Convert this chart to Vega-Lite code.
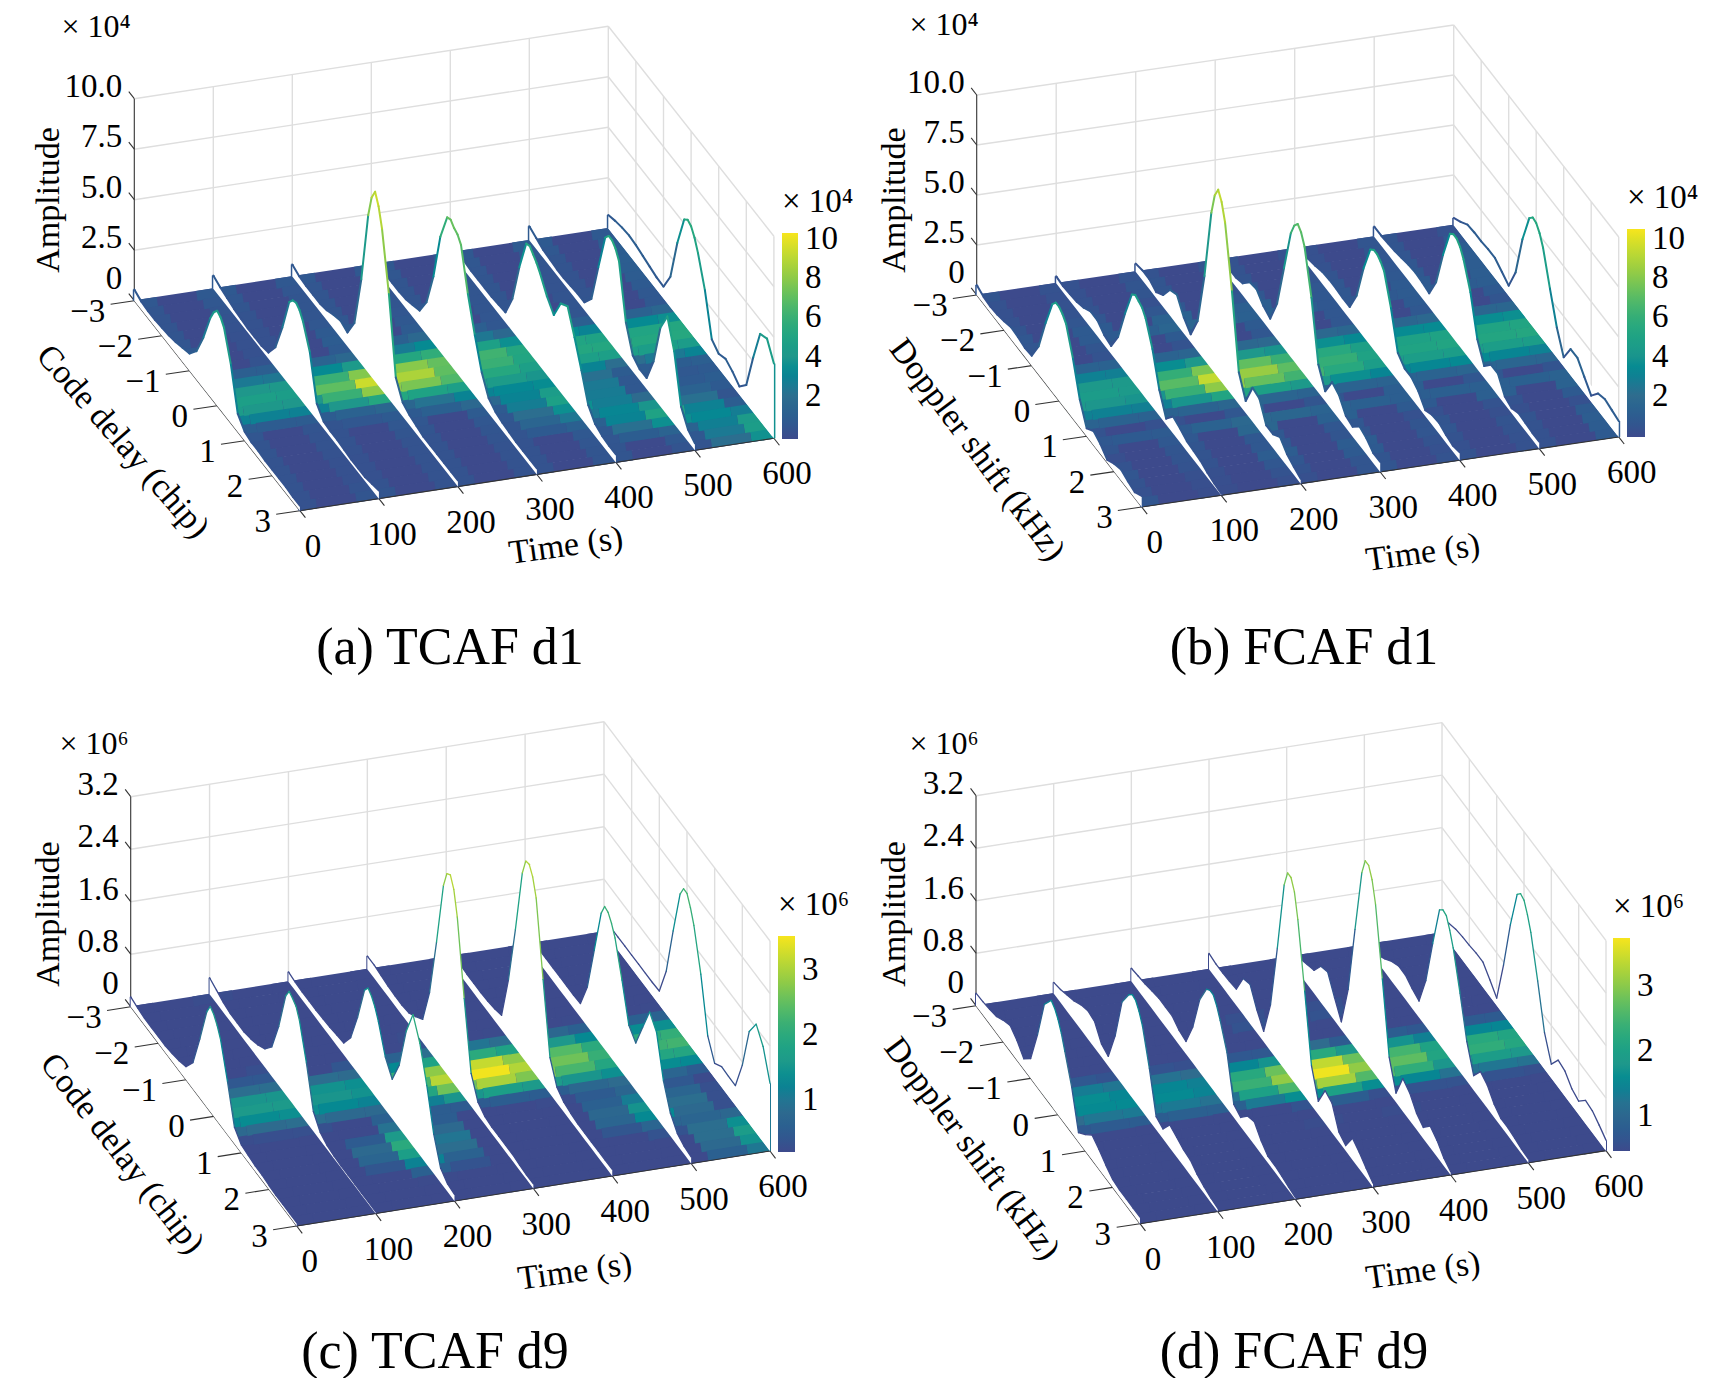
{"$schema":"https://vega.github.io/schema/vega-lite/v6.json","padding":0,"background":"white","bounds":"flush","columns":2,"spacing":{"row":86,"column":0},"resolve":{"scale":{"color":"independent"},"legend":{"color":"independent"}},"config":{"view":{"stroke":null}},
"datasets":{
"guides":[
{"k":"grid","t":100,"d":-3,"f":0,"t2":100,"d2":-3,"f2":1},{"k":"grid","t":200,"d":-3,"f":0,"t2":200,"d2":-3,"f2":1},{"k":"grid","t":300,"d":-3,"f":0,"t2":300,"d2":-3,"f2":1},{"k":"grid","t":400,"d":-3,"f":0,"t2":400,"d2":-3,"f2":1},{"k":"grid","t":500,"d":-3,"f":0,"t2":500,"d2":-3,"f2":1},{"k":"grid","t":600,"d":-3,"f":0,"t2":600,"d2":-3,"f2":1},
{"k":"grid","t":0,"d":-3,"f":0.25,"t2":600,"d2":-3,"f2":0.25},{"k":"grid","t":0,"d":-3,"f":0.5,"t2":600,"d2":-3,"f2":0.5},{"k":"grid","t":0,"d":-3,"f":0.75,"t2":600,"d2":-3,"f2":0.75},{"k":"grid","t":0,"d":-3,"f":1,"t2":600,"d2":-3,"f2":1},
{"k":"grid","t":600,"d":-2,"f":0,"t2":600,"d2":-2,"f2":1},{"k":"grid","t":600,"d":-1,"f":0,"t2":600,"d2":-1,"f2":1},{"k":"grid","t":600,"d":0,"f":0,"t2":600,"d2":0,"f2":1},{"k":"grid","t":600,"d":1,"f":0,"t2":600,"d2":1,"f2":1},{"k":"grid","t":600,"d":2,"f":0,"t2":600,"d2":2,"f2":1},{"k":"grid","t":600,"d":3,"f":0,"t2":600,"d2":3,"f2":1},
{"k":"grid","t":600,"d":-3,"f":0.25,"t2":600,"d2":3,"f2":0.25},{"k":"grid","t":600,"d":-3,"f":0.5,"t2":600,"d2":3,"f2":0.5},{"k":"grid","t":600,"d":-3,"f":0.75,"t2":600,"d2":3,"f2":0.75},{"k":"grid","t":600,"d":-3,"f":1,"t2":600,"d2":3,"f2":1},
{"k":"mask","t":607,"d":-3.1,"f":0,"t2":607,"d2":3.1,"f2":0},{"k":"mask","t":-7,"d":-3.1,"f":0,"t2":-7,"d2":3.1,"f2":0},
{"k":"axis","t":0,"d":-3,"f":0,"t2":0,"d2":-3,"f2":1},{"k":"axis","t":0,"d":-3,"f":0,"t2":0,"d2":3,"f2":0},{"k":"axis","t":0,"d":3,"f":0,"t2":600,"d2":3,"f2":0},
{"k":"axis","t":0,"d":-3,"f":0,"t2":0,"d2":-3.2,"f2":0},{"k":"axis","t":0,"d":-3,"f":0.25,"t2":0,"d2":-3.2,"f2":0.25},{"k":"axis","t":0,"d":-3,"f":0.5,"t2":0,"d2":-3.2,"f2":0.5},{"k":"axis","t":0,"d":-3,"f":0.75,"t2":0,"d2":-3.2,"f2":0.75},{"k":"axis","t":0,"d":-3,"f":1,"t2":0,"d2":-3.2,"f2":1},
{"k":"axis","t":0,"d":-2,"f":0,"t2":-30,"d2":-2,"f2":0},{"k":"axis","t":0,"d":-1,"f":0,"t2":-30,"d2":-1,"f2":0},{"k":"axis","t":0,"d":0,"f":0,"t2":-30,"d2":0,"f2":0},{"k":"axis","t":0,"d":1,"f":0,"t2":-30,"d2":1,"f2":0},{"k":"axis","t":0,"d":2,"f":0,"t2":-30,"d2":2,"f2":0},{"k":"axis","t":0,"d":3,"f":0,"t2":-30,"d2":3,"f2":0},{"k":"axis","t":0,"d":-3,"f":0,"t2":-30,"d2":-3,"f2":0},
{"k":"axis","t":0,"d":3,"f":0,"t2":0,"d2":3.2,"f2":0},{"k":"axis","t":100,"d":3,"f":0,"t2":100,"d2":3.2,"f2":0},{"k":"axis","t":200,"d":3,"f":0,"t2":200,"d2":3.2,"f2":0},{"k":"axis","t":300,"d":3,"f":0,"t2":300,"d2":3.2,"f2":0},{"k":"axis","t":400,"d":3,"f":0,"t2":400,"d2":3.2,"f2":0},{"k":"axis","t":500,"d":3,"f":0,"t2":500,"d2":3.2,"f2":0},{"k":"axis","t":600,"d":3,"f":0,"t2":600,"d2":3.2,"f2":0}
],
"labels":[
{"k":"t","label":"0","t":0,"d":3,"f":0},{"k":"t","label":"100","t":100,"d":3,"f":0},{"k":"t","label":"200","t":200,"d":3,"f":0},{"k":"t","label":"300","t":300,"d":3,"f":0},{"k":"t","label":"400","t":400,"d":3,"f":0},{"k":"t","label":"500","t":500,"d":3,"f":0},{"k":"t","label":"600","t":600,"d":3,"f":0},
{"k":"d","label":"−3","t":0,"d":-3,"f":0},{"k":"d","label":"−2","t":0,"d":-2,"f":0},{"k":"d","label":"−1","t":0,"d":-1,"f":0},{"k":"d","label":"0","t":0,"d":0,"f":0},{"k":"d","label":"1","t":0,"d":1,"f":0},{"k":"d","label":"2","t":0,"d":2,"f":0},{"k":"d","label":"3","t":0,"d":3,"f":0},
{"k":"e4","label":"0","t":0,"d":-3,"f":0.05},{"k":"e4","label":"2.5","t":0,"d":-3,"f":0.25},{"k":"e4","label":"5.0","t":0,"d":-3,"f":0.5},{"k":"e4","label":"7.5","t":0,"d":-3,"f":0.75},{"k":"e4","label":"10.0","t":0,"d":-3,"f":1},
{"k":"e6","label":"0","t":0,"d":-3,"f":0.05},{"k":"e6","label":"0.8","t":0,"d":-3,"f":0.25},{"k":"e6","label":"1.6","t":0,"d":-3,"f":0.5},{"k":"e6","label":"2.4","t":0,"d":-3,"f":0.75},{"k":"e6","label":"3.2","t":0,"d":-3,"f":1},
{"p":"a","k":"delay","label":"Code delay (chip)","t":-139,"d":0.55,"f":0},{"p":"a","k":"time","label":"Time (s)","t":269,"d":4.94,"f":0},{"p":"a","k":"amp","label":"Amplitude","t":-107.6,"d":-3,"f":0.563},{"p":"a","k":"sci","label":"× 10⁴","t":-48.3,"d":-3,"f":1.384},
{"p":"b","k":"delay","label":"Doppler shift (kHz)","t":-136,"d":0.94,"f":0},{"p":"b","k":"time","label":"Time (s)","t":277,"d":5.22,"f":0},{"p":"b","k":"amp","label":"Amplitude","t":-102.8,"d":-3,"f":0.535},{"p":"b","k":"sci","label":"× 10⁴","t":-41,"d":-3,"f":1.374},
{"p":"c","k":"delay","label":"Code delay (chip)","t":-136,"d":0.56,"f":0},{"p":"c","k":"time","label":"Time (s)","t":275.6,"d":5.2,"f":0},{"p":"c","k":"amp","label":"Amplitude","t":-103.6,"d":-3,"f":0.503},{"p":"c","k":"sci","label":"× 10⁶","t":-46.5,"d":-3,"f":1.279},
{"p":"d","k":"delay","label":"Doppler shift (kHz)","t":-129,"d":0.51,"f":0},{"p":"d","k":"time","label":"Time (s)","t":285,"d":5.26,"f":0},{"p":"d","k":"amp","label":"Amplitude","t":-104,"d":-3,"f":0.497},{"p":"d","k":"sci","label":"× 10⁶","t":-41,"d":-3,"f":1.27}
],
"a":[
{"t":0,"d":-3,"z":0.55},{"t":0,"d":-2.75,"z":0.4},{"t":0,"d":-2.5,"z":0.35},{"t":0,"d":-2.25,"z":0.35},{"t":0,"d":-2,"z":0.4},{"t":0,"d":-1.75,"z":0.45},{"t":0,"d":-1.5,"z":0.55},{"t":0,"d":-1.25,"z":0.7},{"t":0,"d":-1,"z":0.85},{"t":0,"d":-0.75,"z":1.4},{"t":0,"d":-0.5,"z":2.5},{"t":0,"d":-0.25,"z":3.9},{"t":0,"d":0,"z":4.7},{"t":0,"d":0.25,"z":4.3},{"t":0,"d":0.5,"z":2.9},{"t":0,"d":0.75,"z":0.9},{"t":0,"d":1,"z":0.45},{"t":0,"d":1.25,"z":0.35},{"t":0,"d":1.5,"z":0.35},{"t":0,"d":1.75,"z":0.3},{"t":0,"d":2,"z":0.3},{"t":0,"d":2.25,"z":0.3},{"t":0,"d":2.5,"z":0.3},{"t":0,"d":2.75,"z":0.25},{"t":0,"d":3,"z":0.25},
{"t":100,"d":-3,"z":0.65},{"t":100,"d":-2.75,"z":0.5},{"t":100,"d":-2.5,"z":0.4},{"t":100,"d":-2.25,"z":0.3},{"t":100,"d":-2,"z":0.25},{"t":100,"d":-1.75,"z":0.2},{"t":100,"d":-1.5,"z":0.2},{"t":100,"d":-1.25,"z":0.2},{"t":100,"d":-1,"z":0.3},{"t":100,"d":-0.75,"z":1},{"t":100,"d":-0.5,"z":2.4},{"t":100,"d":-0.25,"z":4.1},{"t":100,"d":0,"z":4.5},{"t":100,"d":0.25,"z":4},{"t":100,"d":0.5,"z":2.9},{"t":100,"d":0.75,"z":0.8},{"t":100,"d":1,"z":0.35},{"t":100,"d":1.25,"z":0.3},{"t":100,"d":1.5,"z":0.3},{"t":100,"d":1.75,"z":0.25},{"t":100,"d":2,"z":0.2},{"t":100,"d":2.25,"z":0.2},{"t":100,"d":2.5,"z":0.2},{"t":100,"d":2.75,"z":0.3},{"t":100,"d":3,"z":0.4},
{"t":200,"d":-3,"z":0.6},{"t":200,"d":-2.75,"z":0.45},{"t":200,"d":-2.5,"z":0.4},{"t":200,"d":-2.25,"z":0.4},{"t":200,"d":-2,"z":0.4},{"t":200,"d":-1.75,"z":0.5},{"t":200,"d":-1.5,"z":0.7},{"t":200,"d":-1.25,"z":0.85},{"t":200,"d":-1,"z":0.7},{"t":200,"d":-0.75,"z":1.6},{"t":200,"d":-0.5,"z":4.2},{"t":200,"d":-0.25,"z":7.8},{"t":200,"d":0,"z":9.4},{"t":200,"d":0.25,"z":8},{"t":200,"d":0.5,"z":5.2},{"t":200,"d":0.75,"z":1.5},{"t":200,"d":1,"z":0.7},{"t":200,"d":1.25,"z":0.5},{"t":200,"d":1.5,"z":0.4},{"t":200,"d":1.75,"z":0.3},{"t":200,"d":2,"z":0.3},{"t":200,"d":2.25,"z":0.3},{"t":200,"d":2.5,"z":0.3},{"t":200,"d":2.75,"z":0.3},{"t":200,"d":3,"z":0.3},
{"t":300,"d":-3,"z":0.6},{"t":300,"d":-2.75,"z":0.5},{"t":300,"d":-2.5,"z":0.4},{"t":300,"d":-2.25,"z":0.4},{"t":300,"d":-2,"z":0.4},{"t":300,"d":-1.75,"z":0.45},{"t":300,"d":-1.5,"z":0.6},{"t":300,"d":-1.25,"z":0.75},{"t":300,"d":-1,"z":1.6},{"t":300,"d":-0.75,"z":3.3},{"t":300,"d":-0.5,"z":5.7},{"t":300,"d":-0.25,"z":7.1},{"t":300,"d":0,"z":7},{"t":300,"d":0.25,"z":6.6},{"t":300,"d":0.5,"z":4.6},{"t":300,"d":0.75,"z":3},{"t":300,"d":1,"z":1.6},{"t":300,"d":1.25,"z":0.75},{"t":300,"d":1.5,"z":0.5},{"t":300,"d":1.75,"z":0.4},{"t":300,"d":2,"z":0.35},{"t":300,"d":2.25,"z":0.3},{"t":300,"d":2.5,"z":0.3},{"t":300,"d":2.75,"z":0.3},{"t":300,"d":3,"z":0.3},
{"t":400,"d":-3,"z":0.55},{"t":400,"d":-2.75,"z":0.5},{"t":400,"d":-2.5,"z":0.45},{"t":400,"d":-2.25,"z":0.4},{"t":400,"d":-2,"z":0.4},{"t":400,"d":-1.75,"z":0.4},{"t":400,"d":-1.5,"z":0.4},{"t":400,"d":-1.25,"z":0.45},{"t":400,"d":-1,"z":0.5},{"t":400,"d":-0.75,"z":1.6},{"t":400,"d":-0.5,"z":3.6},{"t":400,"d":-0.25,"z":5.2},{"t":400,"d":0,"z":5.1},{"t":400,"d":0.25,"z":4.6},{"t":400,"d":0.5,"z":3.9},{"t":400,"d":0.75,"z":3.4},{"t":400,"d":1,"z":4.4},{"t":400,"d":1.25,"z":4.7},{"t":400,"d":1.5,"z":3.6},{"t":400,"d":1.75,"z":2.4},{"t":400,"d":2,"z":1.1},{"t":400,"d":2.25,"z":0.6},{"t":400,"d":2.5,"z":0.45},{"t":400,"d":2.75,"z":0.4},{"t":400,"d":3,"z":0.4},
{"t":500,"d":-3,"z":0.7},{"t":500,"d":-2.75,"z":0.55},{"t":500,"d":-2.5,"z":0.4},{"t":500,"d":-2.25,"z":0.35},{"t":500,"d":-2,"z":0.3},{"t":500,"d":-1.75,"z":0.3},{"t":500,"d":-1.5,"z":0.35},{"t":500,"d":-1.25,"z":0.4},{"t":500,"d":-1,"z":0.4},{"t":500,"d":-0.75,"z":1},{"t":500,"d":-0.5,"z":3},{"t":500,"d":-0.25,"z":4.9},{"t":500,"d":0,"z":5.2},{"t":500,"d":0.25,"z":4.6},{"t":500,"d":0.5,"z":2},{"t":500,"d":0.75,"z":0.8},{"t":500,"d":1,"z":0.55},{"t":500,"d":1.25,"z":0.55},{"t":500,"d":1.5,"z":1.8},{"t":500,"d":1.75,"z":3.9},{"t":500,"d":2,"z":4.9},{"t":500,"d":2.25,"z":3.6},{"t":500,"d":2.5,"z":1.3},{"t":500,"d":2.75,"z":0.6},{"t":500,"d":3,"z":0.35},
{"t":600,"d":-3,"z":0.66},{"t":600,"d":-2.75,"z":0.8},{"t":600,"d":-2.5,"z":0.9},{"t":600,"d":-2.25,"z":0.95},{"t":600,"d":-2,"z":0.9},{"t":600,"d":-1.75,"z":0.8},{"t":600,"d":-1.5,"z":0.7},{"t":600,"d":-1.25,"z":0.6},{"t":600,"d":-1,"z":0.58},{"t":600,"d":-0.75,"z":1.5},{"t":600,"d":-0.5,"z":3.6},{"t":600,"d":-0.25,"z":5.2},{"t":600,"d":0,"z":5.3},{"t":600,"d":0.25,"z":4.4},{"t":600,"d":0.5,"z":3},{"t":600,"d":0.75,"z":1},{"t":600,"d":1,"z":0.72},{"t":600,"d":1.25,"z":0.9},{"t":600,"d":1.5,"z":0.7},{"t":600,"d":1.75,"z":0.4},{"t":600,"d":2,"z":0.9},{"t":600,"d":2.25,"z":2.7},{"t":600,"d":2.5,"z":4.3},{"t":600,"d":2.75,"z":4.5},{"t":600,"d":3,"z":3.7},
{"t":0,"d":-0.125,"z":4.4},{"t":0,"d":0.125,"z":4.6},{"t":100,"d":-0.125,"z":4.4},{"t":100,"d":0.125,"z":4.35},{"t":200,"d":-0.125,"z":8.9},{"t":200,"d":0.125,"z":8.9},{"t":300,"d":-0.125,"z":7.2},{"t":300,"d":0.125,"z":6.9},{"t":400,"d":-0.125,"z":5.3},{"t":400,"d":0.125,"z":4.9},{"t":500,"d":-0.125,"z":5.2},{"t":500,"d":0.125,"z":5},{"t":600,"d":-0.125,"z":5.4},{"t":600,"d":0.125,"z":4.95},
{"t":50,"d":-0.75,"z":1},{"t":50,"d":-0.5,"z":2.5},{"t":50,"d":-0.25,"z":4},{"t":50,"d":0,"z":4.6},{"t":50,"d":0.25,"z":4.1},{"t":50,"d":0.5,"z":2.9},{"t":50,"d":0.75,"z":0.85},
{"t":150,"d":-0.75,"z":1.3},{"t":150,"d":-0.5,"z":3.3},{"t":150,"d":-0.25,"z":6},{"t":150,"d":0,"z":7},{"t":150,"d":0.25,"z":6},{"t":150,"d":0.5,"z":4},{"t":150,"d":0.75,"z":1.2},{"t":150,"d":1,"z":0.5},
{"t":250,"d":-1,"z":1.1},{"t":250,"d":-0.75,"z":2.6},{"t":250,"d":-0.5,"z":5.2},{"t":250,"d":-0.25,"z":7.9},{"t":250,"d":0,"z":8.7},{"t":250,"d":0.25,"z":7.6},{"t":250,"d":0.5,"z":4.9},{"t":250,"d":0.75,"z":2.2},{"t":250,"d":1,"z":1.1},
{"t":350,"d":-1,"z":1},{"t":350,"d":-0.75,"z":2.4},{"t":350,"d":-0.5,"z":4.7},{"t":350,"d":-0.25,"z":6.2},{"t":350,"d":0,"z":6},{"t":350,"d":0.25,"z":5.3},{"t":350,"d":0.5,"z":4.3},{"t":350,"d":0.75,"z":3.2},{"t":350,"d":1,"z":3},{"t":350,"d":1.25,"z":2.7},{"t":350,"d":1.5,"z":2},{"t":350,"d":1.75,"z":1.4},{"t":350,"d":2,"z":0.7},
{"t":450,"d":-0.75,"z":1.3},{"t":450,"d":-0.5,"z":3.3},{"t":450,"d":-0.25,"z":5},{"t":450,"d":0,"z":5.2},{"t":450,"d":0.25,"z":4.6},{"t":450,"d":0.5,"z":3},{"t":450,"d":0.75,"z":2.1},{"t":450,"d":1,"z":2.5},{"t":450,"d":1.25,"z":2.6},{"t":450,"d":1.5,"z":2.7},{"t":450,"d":1.75,"z":3.1},{"t":450,"d":2,"z":3},{"t":450,"d":2.25,"z":2.1},{"t":450,"d":2.5,"z":0.9},
{"t":550,"d":-0.75,"z":1.2},{"t":550,"d":-0.5,"z":3.3},{"t":550,"d":-0.25,"z":5},{"t":550,"d":0,"z":5.2},{"t":550,"d":0.25,"z":4.5},{"t":550,"d":0.5,"z":2.5},{"t":550,"d":0.75,"z":0.9},{"t":550,"d":1,"z":0.6},{"t":550,"d":1.25,"z":0.7},{"t":550,"d":1.5,"z":1.2},{"t":550,"d":1.75,"z":2.1},{"t":550,"d":2,"z":2.9},{"t":550,"d":2.25,"z":3.2},{"t":550,"d":2.5,"z":2.8},{"t":550,"d":2.75,"z":2.5},{"t":550,"d":3,"z":2}
],
"b":[
{"t":0,"d":-3,"z":0.5},{"t":0,"d":-2.75,"z":0.35},{"t":0,"d":-2.5,"z":0.3},{"t":0,"d":-2.25,"z":0.35},{"t":0,"d":-2,"z":0.45},{"t":0,"d":-1.75,"z":0.6},{"t":0,"d":-1.5,"z":0.55},{"t":0,"d":-1.25,"z":0.45},{"t":0,"d":-1,"z":0.5},{"t":0,"d":-0.75,"z":1.4},{"t":0,"d":-0.5,"z":3},{"t":0,"d":-0.25,"z":4.4},{"t":0,"d":0,"z":4.7},{"t":0,"d":0.25,"z":4.3},{"t":0,"d":0.5,"z":3},{"t":0,"d":0.75,"z":1.4},{"t":0,"d":1,"z":0.4},{"t":0,"d":1.25,"z":0.7},{"t":0,"d":1.5,"z":0.5},{"t":0,"d":1.75,"z":0.15},{"t":0,"d":2,"z":0.4},{"t":0,"d":2.25,"z":0.55},{"t":0,"d":2.5,"z":0.4},{"t":0,"d":2.75,"z":0.3},{"t":0,"d":3,"z":0.55},
{"t":100,"d":-3,"z":0.35},{"t":100,"d":-2.75,"z":0.3},{"t":100,"d":-2.5,"z":0.35},{"t":100,"d":-2.25,"z":0.4},{"t":100,"d":-2,"z":0.55},{"t":100,"d":-1.75,"z":0.8},{"t":100,"d":-1.5,"z":0.8},{"t":100,"d":-1.25,"z":0.5},{"t":100,"d":-1,"z":0.4},{"t":100,"d":-0.75,"z":1.3},{"t":100,"d":-0.5,"z":2.9},{"t":100,"d":-0.25,"z":4.3},{"t":100,"d":0,"z":4.4},{"t":100,"d":0.25,"z":4},{"t":100,"d":0.5,"z":2.9},{"t":100,"d":0.75,"z":1.3},{"t":100,"d":1,"z":0.3},{"t":100,"d":1.25,"z":0.85},{"t":100,"d":1.5,"z":0.7},{"t":100,"d":1.75,"z":0.5},{"t":100,"d":2,"z":0.45},{"t":100,"d":2.25,"z":0.4},{"t":100,"d":2.5,"z":0.25},{"t":100,"d":2.75,"z":0.15},{"t":100,"d":3,"z":0.1},
{"t":200,"d":-3,"z":0.4},{"t":200,"d":-2.75,"z":0.5},{"t":200,"d":-2.5,"z":0.5},{"t":200,"d":-2.25,"z":0.3},{"t":200,"d":-2,"z":0.6},{"t":200,"d":-1.75,"z":1.3},{"t":200,"d":-1.5,"z":1.5},{"t":200,"d":-1.25,"z":0.8},{"t":200,"d":-1,"z":0.4},{"t":200,"d":-0.75,"z":1.5},{"t":200,"d":-0.5,"z":4.2},{"t":200,"d":-0.25,"z":7.8},{"t":200,"d":0,"z":9.4},{"t":200,"d":0.25,"z":8.2},{"t":200,"d":0.5,"z":5.2},{"t":200,"d":0.75,"z":1.6},{"t":200,"d":1,"z":0.6},{"t":200,"d":1.25,"z":1.7},{"t":200,"d":1.5,"z":1.6},{"t":200,"d":1.75,"z":0.7},{"t":200,"d":2,"z":0.7},{"t":200,"d":2.25,"z":1},{"t":200,"d":2.5,"z":0.6},{"t":200,"d":2.75,"z":0.4},{"t":200,"d":3,"z":0.25},
{"t":300,"d":-3,"z":0.4},{"t":300,"d":-2.75,"z":0.4},{"t":300,"d":-2.5,"z":0.45},{"t":300,"d":-2.25,"z":0.45},{"t":300,"d":-2,"z":0.6},{"t":300,"d":-1.75,"z":1.1},{"t":300,"d":-1.5,"z":1.2},{"t":300,"d":-1.25,"z":0.8},{"t":300,"d":-1,"z":0.6},{"t":300,"d":-0.75,"z":1.8},{"t":300,"d":-0.5,"z":4},{"t":300,"d":-0.25,"z":6.2},{"t":300,"d":0,"z":7.1},{"t":300,"d":0.25,"z":6.4},{"t":300,"d":0.5,"z":4.3},{"t":300,"d":0.75,"z":1.4},{"t":300,"d":1,"z":0.5},{"t":300,"d":1.25,"z":1.4},{"t":300,"d":1.5,"z":1.2},{"t":300,"d":1.75,"z":0.6},{"t":300,"d":2,"z":0.5},{"t":300,"d":2.25,"z":0.95},{"t":300,"d":2.5,"z":0.8},{"t":300,"d":2.75,"z":0.5},{"t":300,"d":3,"z":0.5},
{"t":400,"d":-3,"z":0.3},{"t":400,"d":-2.75,"z":0.3},{"t":400,"d":-2.5,"z":0.35},{"t":400,"d":-2.25,"z":0.45},{"t":400,"d":-2,"z":0.6},{"t":400,"d":-1.75,"z":0.65},{"t":400,"d":-1.5,"z":0.65},{"t":400,"d":-1.25,"z":0.6},{"t":400,"d":-1,"z":0.6},{"t":400,"d":-0.75,"z":1.6},{"t":400,"d":-0.5,"z":3.4},{"t":400,"d":-0.25,"z":4.8},{"t":400,"d":0,"z":5},{"t":400,"d":0.25,"z":4.6},{"t":400,"d":0.5,"z":3.2},{"t":400,"d":0.75,"z":1.4},{"t":400,"d":1,"z":1.05},{"t":400,"d":1.25,"z":1.05},{"t":400,"d":1.5,"z":0.8},{"t":400,"d":1.75,"z":0.3},{"t":400,"d":2,"z":0.5},{"t":400,"d":2.25,"z":0.55},{"t":400,"d":2.5,"z":0.4},{"t":400,"d":2.75,"z":0.3},{"t":400,"d":3,"z":0.4},
{"t":500,"d":-3,"z":0.5},{"t":500,"d":-2.75,"z":0.5},{"t":500,"d":-2.5,"z":0.55},{"t":500,"d":-2.25,"z":0.6},{"t":500,"d":-2,"z":0.7},{"t":500,"d":-1.75,"z":0.8},{"t":500,"d":-1.5,"z":0.85},{"t":500,"d":-1.25,"z":0.8},{"t":500,"d":-1,"z":0.7},{"t":500,"d":-0.75,"z":1.7},{"t":500,"d":-0.5,"z":3.5},{"t":500,"d":-0.25,"z":5},{"t":500,"d":0,"z":5.2},{"t":500,"d":0.25,"z":4.6},{"t":500,"d":0.5,"z":3.4},{"t":500,"d":0.75,"z":1.5},{"t":500,"d":1,"z":0.6},{"t":500,"d":1.25,"z":1.1},{"t":500,"d":1.5,"z":1.1},{"t":500,"d":1.75,"z":0.4},{"t":500,"d":2,"z":0.25},{"t":500,"d":2.25,"z":0.45},{"t":500,"d":2.5,"z":0.4},{"t":500,"d":2.75,"z":0.35},{"t":500,"d":3,"z":0.35},
{"t":600,"d":-3,"z":0.35},{"t":600,"d":-2.75,"z":0.6},{"t":600,"d":-2.5,"z":0.9},{"t":600,"d":-2.25,"z":0.95},{"t":600,"d":-2,"z":0.95},{"t":600,"d":-1.75,"z":1},{"t":600,"d":-1.5,"z":1},{"t":600,"d":-1.25,"z":0.75},{"t":600,"d":-1,"z":0.5},{"t":600,"d":-0.75,"z":1.6},{"t":600,"d":-0.5,"z":3.7},{"t":600,"d":-0.25,"z":5.2},{"t":600,"d":0,"z":5.4},{"t":600,"d":0.25,"z":4.6},{"t":600,"d":0.5,"z":3},{"t":600,"d":0.75,"z":1.5},{"t":600,"d":1,"z":0.45},{"t":600,"d":1.25,"z":1.3},{"t":600,"d":1.5,"z":1.3},{"t":600,"d":1.75,"z":0.8},{"t":600,"d":2,"z":0.3},{"t":600,"d":2.25,"z":0.85},{"t":600,"d":2.5,"z":1},{"t":600,"d":2.75,"z":0.9},{"t":600,"d":3,"z":0.8},
{"t":0,"d":-0.125,"z":4.7},{"t":0,"d":0.125,"z":4.55},{"t":100,"d":-0.125,"z":4.5},{"t":100,"d":0.125,"z":4.3},{"t":200,"d":-0.125,"z":8.9},{"t":200,"d":0.125,"z":9},{"t":300,"d":-0.125,"z":6.8},{"t":300,"d":0.125,"z":6.9},{"t":400,"d":-0.125,"z":5},{"t":400,"d":0.125,"z":4.85},{"t":500,"d":-0.125,"z":5.2},{"t":500,"d":0.125,"z":5},{"t":600,"d":-0.125,"z":5.45},{"t":600,"d":0.125,"z":5.1},
{"t":50,"d":-0.75,"z":1.3},{"t":50,"d":-0.5,"z":3},{"t":50,"d":-0.25,"z":4.3},{"t":50,"d":0,"z":4.5},{"t":50,"d":0.25,"z":4.1},{"t":50,"d":0.5,"z":3},{"t":50,"d":0.75,"z":1.3},{"t":50,"d":1.25,"z":0.8},
{"t":150,"d":-1.5,"z":1.1},{"t":150,"d":-0.75,"z":1.4},{"t":150,"d":-0.5,"z":3.6},{"t":150,"d":-0.25,"z":6},{"t":150,"d":0,"z":7},{"t":150,"d":0.25,"z":6.1},{"t":150,"d":0.5,"z":4},{"t":150,"d":0.75,"z":1.4},{"t":150,"d":1.25,"z":1.3},
{"t":250,"d":-1.5,"z":1.4},{"t":250,"d":-0.75,"z":1.7},{"t":250,"d":-0.5,"z":4.2},{"t":250,"d":-0.25,"z":7.2},{"t":250,"d":0,"z":8.4},{"t":250,"d":0.25,"z":7.3},{"t":250,"d":0.5,"z":4.8},{"t":250,"d":0.75,"z":1.5},{"t":250,"d":1.25,"z":1.6},
{"t":350,"d":-1.5,"z":0.9},{"t":350,"d":-0.75,"z":1.7},{"t":350,"d":-0.5,"z":3.7},{"t":350,"d":-0.25,"z":5.5},{"t":350,"d":0,"z":6},{"t":350,"d":0.25,"z":5.5},{"t":350,"d":0.5,"z":3.7},{"t":350,"d":0.75,"z":1.4},{"t":350,"d":1.25,"z":1.2},
{"t":450,"d":-1.5,"z":0.75},{"t":450,"d":-0.75,"z":1.6},{"t":450,"d":-0.5,"z":3.5},{"t":450,"d":-0.25,"z":4.9},{"t":450,"d":0,"z":5.1},{"t":450,"d":0.25,"z":4.6},{"t":450,"d":0.5,"z":3.3},{"t":450,"d":0.75,"z":1.4},{"t":450,"d":1.25,"z":1.1},
{"t":550,"d":-1.5,"z":0.9},{"t":550,"d":-0.75,"z":1.6},{"t":550,"d":-0.5,"z":3.6},{"t":550,"d":-0.25,"z":5.1},{"t":550,"d":0,"z":5.3},{"t":550,"d":0.25,"z":4.6},{"t":550,"d":0.5,"z":3.2},{"t":550,"d":0.75,"z":1.5},{"t":550,"d":1.25,"z":1.2}
],
"c":[
{"t":0,"d":-3,"z":0.15},{"t":0,"d":-2.75,"z":0.12},{"t":0,"d":-2.5,"z":0.1},{"t":0,"d":-2.25,"z":0.1},{"t":0,"d":-2,"z":0.1},{"t":0,"d":-1.75,"z":0.1},{"t":0,"d":-1.5,"z":0.12},{"t":0,"d":-1.25,"z":0.15},{"t":0,"d":-1,"z":0.2},{"t":0,"d":-0.75,"z":0.4},{"t":0,"d":-0.5,"z":0.9},{"t":0,"d":-0.25,"z":1.45},{"t":0,"d":0,"z":1.55},{"t":0,"d":0.25,"z":1.3},{"t":0,"d":0.5,"z":0.8},{"t":0,"d":0.75,"z":0.25},{"t":0,"d":1,"z":0.12},{"t":0,"d":1.25,"z":0.1},{"t":0,"d":1.5,"z":0.08},{"t":0,"d":1.75,"z":0.08},{"t":0,"d":2,"z":0.06},{"t":0,"d":2.25,"z":0.05},{"t":0,"d":2.5,"z":0.05},{"t":0,"d":2.75,"z":0.05},{"t":0,"d":3,"z":0.05},
{"t":100,"d":-3,"z":0.25},{"t":100,"d":-2.75,"z":0.2},{"t":100,"d":-2.5,"z":0.15},{"t":100,"d":-2.25,"z":0.12},{"t":100,"d":-2,"z":0.12},{"t":100,"d":-1.75,"z":0.12},{"t":100,"d":-1.5,"z":0.15},{"t":100,"d":-1.25,"z":0.2},{"t":100,"d":-1,"z":0.28},{"t":100,"d":-0.75,"z":0.45},{"t":100,"d":-0.5,"z":0.9},{"t":100,"d":-0.25,"z":1.5},{"t":100,"d":0,"z":1.6},{"t":100,"d":0.25,"z":1.4},{"t":100,"d":0.5,"z":0.9},{"t":100,"d":0.75,"z":0.3},{"t":100,"d":1,"z":0.12},{"t":100,"d":1.25,"z":0.06},{"t":100,"d":1.5,"z":0.04},{"t":100,"d":1.75,"z":0.03},{"t":100,"d":2,"z":0.03},{"t":100,"d":2.25,"z":0.03},{"t":100,"d":2.5,"z":0.03},{"t":100,"d":2.75,"z":0.03},{"t":100,"d":3,"z":0.03},
{"t":200,"d":-3,"z":0.15},{"t":200,"d":-2.75,"z":0.13},{"t":200,"d":-2.5,"z":0.12},{"t":200,"d":-2.25,"z":0.12},{"t":200,"d":-2,"z":0.12},{"t":200,"d":-1.75,"z":0.13},{"t":200,"d":-1.5,"z":0.14},{"t":200,"d":-1.25,"z":0.16},{"t":200,"d":-1,"z":0.18},{"t":200,"d":-0.75,"z":0.4},{"t":200,"d":-0.5,"z":0.85},{"t":200,"d":-0.25,"z":1.4},{"t":200,"d":0,"z":1.45},{"t":200,"d":0.25,"z":1.2},{"t":200,"d":0.5,"z":0.8},{"t":200,"d":0.75,"z":0.6},{"t":200,"d":1,"z":0.95},{"t":200,"d":1.25,"z":1.6},{"t":200,"d":1.5,"z":2},{"t":200,"d":1.75,"z":1.7},{"t":200,"d":2,"z":1.2},{"t":200,"d":2.25,"z":0.6},{"t":200,"d":2.5,"z":0.22},{"t":200,"d":2.75,"z":0.12},{"t":200,"d":3,"z":0.1},
{"t":300,"d":-3,"z":0.2},{"t":300,"d":-2.75,"z":0.2},{"t":300,"d":-2.5,"z":0.18},{"t":300,"d":-2.25,"z":0.16},{"t":300,"d":-2,"z":0.15},{"t":300,"d":-1.75,"z":0.15},{"t":300,"d":-1.5,"z":0.17},{"t":300,"d":-1.25,"z":0.25},{"t":300,"d":-1,"z":0.35},{"t":300,"d":-0.75,"z":0.9},{"t":300,"d":-0.5,"z":1.8},{"t":300,"d":-0.25,"z":2.8},{"t":300,"d":0,"z":3.1},{"t":300,"d":0.25,"z":2.6},{"t":300,"d":0.5,"z":1.5},{"t":300,"d":0.75,"z":0.5},{"t":300,"d":1,"z":0.2},{"t":300,"d":1.25,"z":0.12},{"t":300,"d":1.5,"z":0.1},{"t":300,"d":1.75,"z":0.1},{"t":300,"d":2,"z":0.1},{"t":300,"d":2.25,"z":0.1},{"t":300,"d":2.5,"z":0.08},{"t":300,"d":2.75,"z":0.07},{"t":300,"d":3,"z":0.07},
{"t":400,"d":-3,"z":0.2},{"t":400,"d":-2.75,"z":0.18},{"t":400,"d":-2.5,"z":0.16},{"t":400,"d":-2.25,"z":0.15},{"t":400,"d":-2,"z":0.15},{"t":400,"d":-1.75,"z":0.15},{"t":400,"d":-1.5,"z":0.16},{"t":400,"d":-1.25,"z":0.18},{"t":400,"d":-1,"z":0.22},{"t":400,"d":-0.75,"z":0.9},{"t":400,"d":-0.5,"z":1.8},{"t":400,"d":-0.25,"z":2.8},{"t":400,"d":0,"z":3.07},{"t":400,"d":0.25,"z":2.7},{"t":400,"d":0.5,"z":1.6},{"t":400,"d":0.75,"z":0.55},{"t":400,"d":1,"z":0.24},{"t":400,"d":1.25,"z":0.15},{"t":400,"d":1.5,"z":0.12},{"t":400,"d":1.75,"z":0.1},{"t":400,"d":2,"z":0.1},{"t":400,"d":2.25,"z":0.1},{"t":400,"d":2.5,"z":0.1},{"t":400,"d":2.75,"z":0.1},{"t":400,"d":3,"z":0.1},
{"t":500,"d":-3,"z":0.2},{"t":500,"d":-2.75,"z":0.2},{"t":500,"d":-2.5,"z":0.2},{"t":500,"d":-2.25,"z":0.2},{"t":500,"d":-2,"z":0.2},{"t":500,"d":-1.75,"z":0.2},{"t":500,"d":-1.5,"z":0.2},{"t":500,"d":-1.25,"z":0.2},{"t":500,"d":-1,"z":0.21},{"t":500,"d":-0.75,"z":0.6},{"t":500,"d":-0.5,"z":1.3},{"t":500,"d":-0.25,"z":2},{"t":500,"d":0,"z":2.15},{"t":500,"d":0.25,"z":1.9},{"t":500,"d":0.5,"z":1.4},{"t":500,"d":0.75,"z":0.85},{"t":500,"d":1,"z":0.72},{"t":500,"d":1.25,"z":1.1},{"t":500,"d":1.5,"z":1.47},{"t":500,"d":1.75,"z":1.3},{"t":500,"d":2,"z":0.7},{"t":500,"d":2.25,"z":0.35},{"t":500,"d":2.5,"z":0.18},{"t":500,"d":2.75,"z":0.12},{"t":500,"d":3,"z":0.1},
{"t":600,"d":-3,"z":0.19},{"t":600,"d":-2.75,"z":0.2},{"t":600,"d":-2.5,"z":0.2},{"t":600,"d":-2.25,"z":0.2},{"t":600,"d":-2,"z":0.2},{"t":600,"d":-1.75,"z":0.2},{"t":600,"d":-1.5,"z":0.2},{"t":600,"d":-1.25,"z":0.2},{"t":600,"d":-1,"z":0.21},{"t":600,"d":-0.75,"z":0.65},{"t":600,"d":-0.5,"z":1.4},{"t":600,"d":-0.25,"z":2.1},{"t":600,"d":0,"z":2.25},{"t":600,"d":0.25,"z":1.9},{"t":600,"d":0.5,"z":1.3},{"t":600,"d":0.75,"z":0.5},{"t":600,"d":1,"z":0.22},{"t":600,"d":1.25,"z":0.31},{"t":600,"d":1.5,"z":0.3},{"t":600,"d":1.75,"z":0.3},{"t":600,"d":2,"z":0.75},{"t":600,"d":2.25,"z":1.4},{"t":600,"d":2.5,"z":1.65},{"t":600,"d":2.75,"z":1.45},{"t":600,"d":3,"z":1.03},
{"t":0,"d":-0.125,"z":1.6},{"t":0,"d":0.125,"z":1.45},{"t":100,"d":-0.125,"z":1.64},{"t":100,"d":0.125,"z":1.55},{"t":200,"d":-0.125,"z":1.5},{"t":200,"d":0.125,"z":1.35},{"t":300,"d":-0.125,"z":3.05},{"t":300,"d":0.125,"z":2.95},{"t":400,"d":-0.125,"z":3.05},{"t":400,"d":0.125,"z":2.95},{"t":500,"d":-0.125,"z":2.17},{"t":500,"d":0.125,"z":2.05},{"t":600,"d":-0.125,"z":2.25},{"t":600,"d":0.125,"z":2.1},
{"t":50,"d":-0.75,"z":0.45},{"t":50,"d":-0.5,"z":0.9},{"t":50,"d":-0.25,"z":1.5},{"t":50,"d":0,"z":1.6},{"t":50,"d":0.25,"z":1.35},{"t":50,"d":0.5,"z":0.85},{"t":50,"d":0.75,"z":0.28},
{"t":150,"d":-0.5,"z":0.9},{"t":150,"d":-0.25,"z":1.45},{"t":150,"d":0,"z":1.5},{"t":150,"d":0.25,"z":1.3},{"t":150,"d":0.5,"z":0.8},{"t":150,"d":1.25,"z":0.5},{"t":150,"d":1.5,"z":0.8},{"t":150,"d":1.75,"z":0.7},{"t":150,"d":2,"z":0.4},
{"t":250,"d":-0.75,"z":0.65},{"t":250,"d":-0.5,"z":1.3},{"t":250,"d":-0.25,"z":2.1},{"t":250,"d":0,"z":2.3},{"t":250,"d":0.25,"z":1.9},{"t":250,"d":0.5,"z":1.15},{"t":250,"d":0.75,"z":0.55},{"t":250,"d":1,"z":0.55},{"t":250,"d":1.25,"z":0.8},{"t":250,"d":1.5,"z":1},{"t":250,"d":1.75,"z":0.9},{"t":250,"d":2,"z":0.65},{"t":250,"d":2.25,"z":0.35},
{"t":350,"d":-0.75,"z":1},{"t":350,"d":-0.5,"z":2},{"t":350,"d":-0.25,"z":3.2},{"t":350,"d":0,"z":3.5},{"t":350,"d":0.25,"z":3},{"t":350,"d":0.5,"z":1.7},{"t":350,"d":0.75,"z":0.55},
{"t":450,"d":-0.75,"z":0.75},{"t":450,"d":-0.5,"z":1.55},{"t":450,"d":-0.25,"z":2.4},{"t":450,"d":0,"z":2.6},{"t":450,"d":0.25,"z":2.3},{"t":450,"d":0.5,"z":1.5},{"t":450,"d":0.75,"z":0.75},{"t":450,"d":1,"z":0.5},{"t":450,"d":1.25,"z":0.6},{"t":450,"d":1.5,"z":0.75},{"t":450,"d":1.75,"z":0.7},{"t":450,"d":2,"z":0.4},
{"t":550,"d":-0.75,"z":0.6},{"t":550,"d":-0.5,"z":1.35},{"t":550,"d":-0.25,"z":2},{"t":550,"d":0,"z":2.2},{"t":550,"d":0.25,"z":1.9},{"t":550,"d":0.5,"z":1.35},{"t":550,"d":0.75,"z":0.7},{"t":550,"d":1,"z":0.45},{"t":550,"d":1.25,"z":0.7},{"t":550,"d":1.5,"z":0.9},{"t":550,"d":1.75,"z":0.8},{"t":550,"d":2,"z":0.7},{"t":550,"d":2.25,"z":0.9},{"t":550,"d":2.5,"z":0.9},{"t":550,"d":2.75,"z":0.8},{"t":550,"d":3,"z":0.6}
],
"d":[
{"t":0,"d":-3,"z":0.19},{"t":0,"d":-2.75,"z":0.2},{"t":0,"d":-2.5,"z":0.22},{"t":0,"d":-2.25,"z":0.25},{"t":0,"d":-2,"z":0.33},{"t":0,"d":-1.75,"z":0.39},{"t":0,"d":-1.5,"z":0.3},{"t":0,"d":-1.25,"z":0.16},{"t":0,"d":-1,"z":0.3},{"t":0,"d":-0.75,"z":0.8},{"t":0,"d":-0.5,"z":1.4},{"t":0,"d":-0.25,"z":1.6},{"t":0,"d":0,"z":1.45},{"t":0,"d":0.25,"z":1.1},{"t":0,"d":0.5,"z":0.7},{"t":0,"d":0.75,"z":0.14},{"t":0,"d":1,"z":0.25},{"t":0,"d":1.25,"z":0.38},{"t":0,"d":1.5,"z":0.3},{"t":0,"d":1.75,"z":0.2},{"t":0,"d":2,"z":0.12},{"t":0,"d":2.25,"z":0.1},{"t":0,"d":2.5,"z":0.1},{"t":0,"d":2.75,"z":0.1},{"t":0,"d":3,"z":0.1},
{"t":100,"d":-3,"z":0.17},{"t":100,"d":-2.75,"z":0.2},{"t":100,"d":-2.5,"z":0.25},{"t":100,"d":-2.25,"z":0.3},{"t":100,"d":-2,"z":0.38},{"t":100,"d":-1.75,"z":0.43},{"t":100,"d":-1.5,"z":0.4},{"t":100,"d":-1.25,"z":0.2},{"t":100,"d":-1,"z":0.15},{"t":100,"d":-0.75,"z":0.6},{"t":100,"d":-0.5,"z":1.25},{"t":100,"d":-0.25,"z":1.5},{"t":100,"d":0,"z":1.55},{"t":100,"d":0.25,"z":1.3},{"t":100,"d":0.5,"z":0.8},{"t":100,"d":0.75,"z":0.2},{"t":100,"d":1,"z":0.15},{"t":100,"d":1.25,"z":0.35},{"t":100,"d":1.5,"z":0.3},{"t":100,"d":1.75,"z":0.25},{"t":100,"d":2,"z":0.23},{"t":100,"d":2.25,"z":0.15},{"t":100,"d":2.5,"z":0.1},{"t":100,"d":2.75,"z":0.07},{"t":100,"d":3,"z":0.05},
{"t":200,"d":-3,"z":0.2},{"t":200,"d":-2.75,"z":0.22},{"t":200,"d":-2.5,"z":0.24},{"t":200,"d":-2.25,"z":0.27},{"t":200,"d":-2,"z":0.3},{"t":200,"d":-1.75,"z":0.3},{"t":200,"d":-1.5,"z":0.3},{"t":200,"d":-1.25,"z":0.22},{"t":200,"d":-1,"z":0.19},{"t":200,"d":-0.75,"z":0.55},{"t":200,"d":-0.5,"z":1.1},{"t":200,"d":-0.25,"z":1.4},{"t":200,"d":0,"z":1.45},{"t":200,"d":0.25,"z":1.2},{"t":200,"d":0.5,"z":0.85},{"t":200,"d":0.75,"z":0.2},{"t":200,"d":1,"z":0.14},{"t":200,"d":1.25,"z":0.3},{"t":200,"d":1.5,"z":0.35},{"t":200,"d":1.75,"z":0.2},{"t":200,"d":2,"z":0.1},{"t":200,"d":2.25,"z":0.1},{"t":200,"d":2.5,"z":0.08},{"t":200,"d":2.75,"z":0.05},{"t":200,"d":3,"z":0.03},
{"t":300,"d":-3,"z":0.24},{"t":300,"d":-2.75,"z":0.22},{"t":300,"d":-2.5,"z":0.22},{"t":300,"d":-2.25,"z":0.23},{"t":300,"d":-2,"z":0.25},{"t":300,"d":-1.75,"z":0.55},{"t":300,"d":-1.5,"z":0.6},{"t":300,"d":-1.25,"z":0.35},{"t":300,"d":-1,"z":0.16},{"t":300,"d":-0.75,"z":0.7},{"t":300,"d":-0.5,"z":1.7},{"t":300,"d":-0.25,"z":2.8},{"t":300,"d":0,"z":3.05},{"t":300,"d":0.25,"z":2.55},{"t":300,"d":0.5,"z":1.6},{"t":300,"d":0.75,"z":0.6},{"t":300,"d":1,"z":0.2},{"t":300,"d":1.25,"z":0.5},{"t":300,"d":1.5,"z":0.45},{"t":300,"d":1.75,"z":0.15},{"t":300,"d":2,"z":0.08},{"t":300,"d":2.25,"z":0.33},{"t":300,"d":2.5,"z":0.25},{"t":300,"d":2.75,"z":0.15},{"t":300,"d":3,"z":0.06},
{"t":400,"d":-3,"z":0.2},{"t":400,"d":-2.75,"z":0.22},{"t":400,"d":-2.5,"z":0.25},{"t":400,"d":-2.25,"z":0.3},{"t":400,"d":-2,"z":0.35},{"t":400,"d":-1.75,"z":0.55},{"t":400,"d":-1.5,"z":0.6},{"t":400,"d":-1.25,"z":0.35},{"t":400,"d":-1,"z":0.12},{"t":400,"d":-0.75,"z":0.75},{"t":400,"d":-0.5,"z":1.8},{"t":400,"d":-0.25,"z":2.8},{"t":400,"d":0,"z":3.05},{"t":400,"d":0.25,"z":2.6},{"t":400,"d":0.5,"z":1.6},{"t":400,"d":0.75,"z":0.55},{"t":400,"d":1,"z":0.14},{"t":400,"d":1.25,"z":0.5},{"t":400,"d":1.5,"z":0.42},{"t":400,"d":1.75,"z":0.25},{"t":400,"d":2,"z":0.17},{"t":400,"d":2.25,"z":0.33},{"t":400,"d":2.5,"z":0.25},{"t":400,"d":2.75,"z":0.12},{"t":400,"d":3,"z":0.05},
{"t":500,"d":-3,"z":0.12},{"t":500,"d":-2.75,"z":0.1},{"t":500,"d":-2.5,"z":0.12},{"t":500,"d":-2.25,"z":0.2},{"t":500,"d":-2,"z":0.3},{"t":500,"d":-1.75,"z":0.37},{"t":500,"d":-1.5,"z":0.37},{"t":500,"d":-1.25,"z":0.3},{"t":500,"d":-1,"z":0.25},{"t":500,"d":-0.75,"z":0.7},{"t":500,"d":-0.5,"z":1.4},{"t":500,"d":-0.25,"z":2.05},{"t":500,"d":0,"z":2.1},{"t":500,"d":0.25,"z":1.75},{"t":500,"d":0.5,"z":1.2},{"t":500,"d":0.75,"z":0.6},{"t":500,"d":1,"z":0.22},{"t":500,"d":1.25,"z":0.42},{"t":500,"d":1.5,"z":0.35},{"t":500,"d":1.75,"z":0.2},{"t":500,"d":2,"z":0.12},{"t":500,"d":2.25,"z":0.12},{"t":500,"d":2.5,"z":0.1},{"t":500,"d":2.75,"z":0.07},{"t":500,"d":3,"z":0.06},
{"t":600,"d":-3,"z":0.2},{"t":600,"d":-2.75,"z":0.28},{"t":600,"d":-2.5,"z":0.33},{"t":600,"d":-2.25,"z":0.35},{"t":600,"d":-2,"z":0.36},{"t":600,"d":-1.75,"z":0.38},{"t":600,"d":-1.5,"z":0.38},{"t":600,"d":-1.25,"z":0.25},{"t":600,"d":-1,"z":0.11},{"t":600,"d":-0.75,"z":0.75},{"t":600,"d":-0.5,"z":1.5},{"t":600,"d":-0.25,"z":2.1},{"t":600,"d":0,"z":2.15},{"t":600,"d":0.25,"z":1.8},{"t":600,"d":0.5,"z":1.2},{"t":600,"d":0.75,"z":0.55},{"t":600,"d":1,"z":0.21},{"t":600,"d":1.25,"z":0.41},{"t":600,"d":1.5,"z":0.38},{"t":600,"d":1.75,"z":0.25},{"t":600,"d":2,"z":0.2},{"t":600,"d":2.25,"z":0.35},{"t":600,"d":2.5,"z":0.33},{"t":600,"d":2.75,"z":0.25},{"t":600,"d":3,"z":0.16},
{"t":0,"d":-0.125,"z":1.55},{"t":0,"d":0.125,"z":1.3},{"t":100,"d":-0.125,"z":1.57},{"t":100,"d":0.125,"z":1.45},{"t":200,"d":-0.125,"z":1.45},{"t":200,"d":0.125,"z":1.35},{"t":300,"d":-0.125,"z":3.05},{"t":300,"d":0.125,"z":2.9},{"t":400,"d":-0.125,"z":3.05},{"t":400,"d":0.125,"z":2.9},{"t":500,"d":-0.125,"z":2.12},{"t":500,"d":0.125,"z":1.95},{"t":600,"d":-0.125,"z":2.18},{"t":600,"d":0.125,"z":2},
{"t":50,"d":-0.75,"z":0.7},{"t":50,"d":-0.5,"z":1.35},{"t":50,"d":-0.25,"z":1.6},{"t":50,"d":0,"z":1.55},{"t":50,"d":0.25,"z":1.25},{"t":50,"d":0.5,"z":0.75},
{"t":150,"d":-0.75,"z":0.6},{"t":150,"d":-0.5,"z":1.2},{"t":150,"d":-0.25,"z":1.5},{"t":150,"d":0,"z":1.55},{"t":150,"d":0.25,"z":1.3},{"t":150,"d":0.5,"z":0.85},
{"t":250,"d":-0.75,"z":0.7},{"t":250,"d":-0.5,"z":1.5},{"t":250,"d":-0.25,"z":2.2},{"t":250,"d":0,"z":2.4},{"t":250,"d":0.25,"z":2},{"t":250,"d":0.5,"z":1.3},{"t":250,"d":0.75,"z":0.45},
{"t":350,"d":-0.75,"z":1.1},{"t":350,"d":-0.5,"z":2.2},{"t":350,"d":-0.25,"z":3.4},{"t":350,"d":0,"z":3.7},{"t":350,"d":0.25,"z":3.2},{"t":350,"d":0.5,"z":2},{"t":350,"d":0.75,"z":0.8},
{"t":450,"d":-0.75,"z":0.8},{"t":450,"d":-0.5,"z":1.7},{"t":450,"d":-0.25,"z":2.5},{"t":450,"d":0,"z":2.7},{"t":450,"d":0.25,"z":2.3},{"t":450,"d":0.5,"z":1.5},{"t":450,"d":0.75,"z":0.6},
{"t":550,"d":-0.75,"z":0.75},{"t":550,"d":-0.5,"z":1.5},{"t":550,"d":-0.25,"z":2.2},{"t":550,"d":0,"z":2.3},{"t":550,"d":0.25,"z":1.9},{"t":550,"d":0.5,"z":1.25},{"t":550,"d":0.75,"z":0.6}
]
},
"concat":[
{"width":866,"height":620,"title":{"text":"(a) TCAF d1","orient":"bottom","font":"Liberation Serif","fontSize":52,"fontWeight":"normal","offset":3,"dx":17,"color":"black"},
"encoding":{"x":{"field":"x","type":"quantitative","axis":null,"scale":{"domain":[0,866]}},"y":{"field":"y","type":"quantitative","axis":null,"scale":{"domain":[620,0]}}},
"layer":[
{"data":{"name":"guides"},"transform":[{"filter":"datum.k=='grid'"},{"calculate":"134.3+0.79*datum.t+27.6*(datum.d+3)","as":"x"},{"calculate":"300.7-0.1207*datum.t+35*(datum.d+3)-202*datum.f","as":"y"},{"calculate":"134.3+0.79*datum.t2+27.6*(datum.d2+3)","as":"x2"},{"calculate":"300.7-0.1207*datum.t2+35*(datum.d2+3)-202*datum.f2","as":"y2"}],"mark":{"type":"rule","color":"#dedede","strokeWidth":1.4},"encoding":{"x2":{"field":"x2"},"y2":{"field":"y2"}}},
{"data":{"name":"a"},"transform":[{"filter":"datum.d*4%1==0"}],"layer":[
{"transform":[{"filter":"datum.t==0"},{"calculate":"128.8+27.6*(0.96*datum.d+3)","as":"x"},{"calculate":"301.55+35*(0.96*datum.d+3)","as":"y"},{"calculate":"datum.x+485","as":"x2"},{"calculate":"datum.y-74.1","as":"y2"}],"mark":{"type":"rule","color":"#3d4a8c","strokeWidth":10},"encoding":{"x2":{"field":"x2"},"y2":{"field":"y2"}}},
{"transform":[{"calculate":"max(datum.t-25,-7)","as":"u"},{"calculate":"min(datum.t+25,607)","as":"v"},{"calculate":"134.3+0.79*datum.u+27.6*(0.96*datum.d+3)","as":"x"},{"calculate":"300.7-0.1207*datum.u+35*(0.96*datum.d+3)","as":"y"},{"calculate":"134.3+0.79*datum.v+27.6*(0.96*datum.d+3)","as":"x2"},{"calculate":"300.7-0.1207*datum.v+35*(0.96*datum.d+3)","as":"y2"}],"mark":{"type":"rule","strokeWidth":10},"encoding":{"x2":{"field":"x2"},"y2":{"field":"y2"},"color":{"field":"z","type":"quantitative","scale":{"domain":[-0.2,10.3],"clamp":true,"range":["#3d4a8c","#2f6c8e","#1f978b","#3cb073","#97cc43","#f7e51d"]},"legend":{"orient":"none","legendX":782,"legendY":186,"title":"× 10⁴","titleFont":"Liberation Serif","titleFontSize":33,"titleFontWeight":"normal","titleColor":"black","titlePadding":14,"labelFont":"Liberation Serif","labelFontSize":33,"labelColor":"black","labelOffset":7,"gradientLength":206,"gradientThickness":16,"gradientStrokeColor":"#888888","values":[2,4,6,8,10]}}}}
]},
{"data":{"name":"guides"},"transform":[{"filter":"datum.k!='grid'"},{"calculate":"134.3+0.79*datum.t+27.6*(datum.d+3)","as":"x"},{"calculate":"300.7-0.1207*datum.t+35*(datum.d+3)-202*datum.f","as":"y"},{"calculate":"134.3+0.79*datum.t2+27.6*(datum.d2+3)","as":"x2"},{"calculate":"300.7-0.1207*datum.t2+35*(datum.d2+3)-202*datum.f2","as":"y2"}],
"layer":[{"transform":[{"filter":"datum.k=='mask'"}],"mark":{"type":"rule","color":"white","strokeWidth":10},"encoding":{"x2":{"field":"x2"},"y2":{"field":"y2"}}},{"transform":[{"filter":"datum.k=='axis'"}],"mark":{"type":"rule","color":"#333333","strokeWidth":1.1},"encoding":{"x2":{"field":"x2"},"y2":{"field":"y2"}}}]},
{"data":{"name":"a"},"transform":[{"filter":"datum.t%100==0"},{"calculate":"134.3+0.79*datum.t+27.6*(datum.d+3)","as":"x"},{"calculate":"300.7-0.1207*datum.t+35*(datum.d+3)","as":"by"},{"calculate":"datum.by-20.2*datum.z","as":"y"},{"window":[{"op":"lead","field":"x","as":"nx"},{"op":"lead","field":"y","as":"ny"}],"sort":[{"field":"d"}],"groupby":["t"]}],
"layer":[
{"transform":[{"filter":"datum.d==-3||datum.d==3"}],"mark":{"type":"rule","strokeWidth":3},"encoding":{"y2":{"field":"by"},"color":{"field":"z","type":"quantitative"}}},
{"transform":[{"filter":"datum.t==600"}],"layer":[{"mark":{"type":"area","color":"white"},"encoding":{"y2":{"field":"by"}}},{"transform":[{"filter":"datum.d<3"}],"mark":{"type":"rule","strokeWidth":2,"strokeCap":"round"},"encoding":{"x2":{"field":"nx"},"y2":{"field":"ny"},"color":{"field":"z","type":"quantitative"}}}]},
{"transform":[{"filter":"datum.t==500"}],"layer":[{"mark":{"type":"area","color":"white"},"encoding":{"y2":{"field":"by"}}},{"transform":[{"filter":"datum.d<3"}],"mark":{"type":"rule","strokeWidth":2,"strokeCap":"round"},"encoding":{"x2":{"field":"nx"},"y2":{"field":"ny"},"color":{"field":"z","type":"quantitative"}}}]},
{"transform":[{"filter":"datum.t==400"}],"layer":[{"mark":{"type":"area","color":"white"},"encoding":{"y2":{"field":"by"}}},{"transform":[{"filter":"datum.d<3"}],"mark":{"type":"rule","strokeWidth":2,"strokeCap":"round"},"encoding":{"x2":{"field":"nx"},"y2":{"field":"ny"},"color":{"field":"z","type":"quantitative"}}}]},
{"transform":[{"filter":"datum.t==300"}],"layer":[{"mark":{"type":"area","color":"white"},"encoding":{"y2":{"field":"by"}}},{"transform":[{"filter":"datum.d<3"}],"mark":{"type":"rule","strokeWidth":2,"strokeCap":"round"},"encoding":{"x2":{"field":"nx"},"y2":{"field":"ny"},"color":{"field":"z","type":"quantitative"}}}]},
{"transform":[{"filter":"datum.t==200"}],"layer":[{"mark":{"type":"area","color":"white"},"encoding":{"y2":{"field":"by"}}},{"transform":[{"filter":"datum.d<3"}],"mark":{"type":"rule","strokeWidth":2,"strokeCap":"round"},"encoding":{"x2":{"field":"nx"},"y2":{"field":"ny"},"color":{"field":"z","type":"quantitative"}}}]},
{"transform":[{"filter":"datum.t==100"}],"layer":[{"mark":{"type":"area","color":"white"},"encoding":{"y2":{"field":"by"}}},{"transform":[{"filter":"datum.d<3"}],"mark":{"type":"rule","strokeWidth":2,"strokeCap":"round"},"encoding":{"x2":{"field":"nx"},"y2":{"field":"ny"},"color":{"field":"z","type":"quantitative"}}}]},
{"transform":[{"filter":"datum.t==0"}],"layer":[{"mark":{"type":"area","color":"white"},"encoding":{"y2":{"field":"by"}}},{"transform":[{"filter":"datum.d<3"}],"mark":{"type":"rule","strokeWidth":2,"strokeCap":"round"},"encoding":{"x2":{"field":"nx"},"y2":{"field":"ny"},"color":{"field":"z","type":"quantitative"}}}]}
]},
{"data":{"name":"labels"},"transform":[{"calculate":"134.3+0.79*datum.t+27.6*(datum.d+3)","as":"x"},{"calculate":"300.7-0.1207*datum.t+35*(datum.d+3)-202*datum.f","as":"y"}],"layer":[
{"transform":[{"filter":"datum.k=='t'"}],"mark":{"type":"text","font":"Liberation Serif","fontSize":33,"dx":13,"dy":36},"encoding":{"text":{"field":"label"}}},
{"transform":[{"filter":"datum.k=='d'"}],"mark":{"type":"text","font":"Liberation Serif","fontSize":33,"align":"right","dx":-29,"dy":11},"encoding":{"text":{"field":"label"}}},
{"transform":[{"filter":"datum.k=='e4'"}],"mark":{"type":"text","font":"Liberation Serif","fontSize":33,"align":"right","dx":-12,"dy":-12},"encoding":{"text":{"field":"label"}}},
{"transform":[{"filter":"datum.p=='a'&&datum.k=='delay'"}],"mark":{"type":"text","font":"Liberation Serif","fontSize":34,"angle":49},"encoding":{"text":{"field":"label"}}},
{"transform":[{"filter":"datum.p=='a'&&datum.k=='time'"}],"mark":{"type":"text","font":"Liberation Serif","fontSize":34,"angle":352},"encoding":{"text":{"field":"label"}}},
{"transform":[{"filter":"datum.p=='a'&&datum.k=='amp'"}],"mark":{"type":"text","font":"Liberation Serif","fontSize":34,"angle":270},"encoding":{"text":{"field":"label"}}},
{"transform":[{"filter":"datum.p=='a'&&datum.k=='sci'"}],"mark":{"type":"text","font":"Liberation Serif","fontSize":32},"encoding":{"text":{"field":"label"}}}
]}
]},
{"width":866,"height":620,"title":{"text":"(b) FCAF d1","orient":"bottom","font":"Liberation Serif","fontSize":52,"fontWeight":"normal","offset":3,"dx":5,"color":"black"},
"encoding":{"x":{"field":"x","type":"quantitative","axis":null,"scale":{"domain":[0,866]}},"y":{"field":"y","type":"quantitative","axis":null,"scale":{"domain":[620,0]}}},
"layer":[
{"data":{"name":"guides"},"transform":[{"filter":"datum.k=='grid'"},{"calculate":"110.7+0.795*datum.t+27.5*(datum.d+3)","as":"x"},{"calculate":"295-0.1167*datum.t+35.33*(datum.d+3)-200*datum.f","as":"y"},{"calculate":"110.7+0.795*datum.t2+27.5*(datum.d2+3)","as":"x2"},{"calculate":"295-0.1167*datum.t2+35.33*(datum.d2+3)-200*datum.f2","as":"y2"}],"mark":{"type":"rule","color":"#dedede","strokeWidth":1.4},"encoding":{"x2":{"field":"x2"},"y2":{"field":"y2"}}},
{"data":{"name":"b"},"transform":[{"filter":"datum.d*4%1==0"}],"layer":[
{"transform":[{"filter":"datum.t==0"},{"calculate":"105.1+27.5*(0.96*datum.d+3)","as":"x"},{"calculate":"295.8+35.33*(0.96*datum.d+3)","as":"y"},{"calculate":"datum.x+488","as":"x2"},{"calculate":"datum.y-71.7","as":"y2"}],"mark":{"type":"rule","color":"#3d4a8c","strokeWidth":10},"encoding":{"x2":{"field":"x2"},"y2":{"field":"y2"}}},
{"transform":[{"calculate":"max(datum.t-25,-7)","as":"u"},{"calculate":"min(datum.t+25,607)","as":"v"},{"calculate":"110.7+0.795*datum.u+27.5*(0.96*datum.d+3)","as":"x"},{"calculate":"295-0.1167*datum.u+35.33*(0.96*datum.d+3)","as":"y"},{"calculate":"110.7+0.795*datum.v+27.5*(0.96*datum.d+3)","as":"x2"},{"calculate":"295-0.1167*datum.v+35.33*(0.96*datum.d+3)","as":"y2"}],"mark":{"type":"rule","strokeWidth":10},"encoding":{"x2":{"field":"x2"},"y2":{"field":"y2"},"color":{"field":"z","type":"quantitative","scale":{"domain":[-0.1,10.5],"clamp":true,"range":["#3d4a8c","#2f6c8e","#1f978b","#3cb073","#97cc43","#f7e51d"]},"legend":{"orient":"none","legendX":761,"legendY":182,"title":"× 10⁴","titleFont":"Liberation Serif","titleFontSize":33,"titleFontWeight":"normal","titleColor":"black","titlePadding":14,"labelFont":"Liberation Serif","labelFontSize":33,"labelColor":"black","labelOffset":7,"gradientLength":208,"gradientThickness":18,"gradientStrokeColor":"#888888","values":[2,4,6,8,10]}}}}
]},
{"data":{"name":"guides"},"transform":[{"filter":"datum.k!='grid'"},{"calculate":"110.7+0.795*datum.t+27.5*(datum.d+3)","as":"x"},{"calculate":"295-0.1167*datum.t+35.33*(datum.d+3)-200*datum.f","as":"y"},{"calculate":"110.7+0.795*datum.t2+27.5*(datum.d2+3)","as":"x2"},{"calculate":"295-0.1167*datum.t2+35.33*(datum.d2+3)-200*datum.f2","as":"y2"}],
"layer":[{"transform":[{"filter":"datum.k=='mask'"}],"mark":{"type":"rule","color":"white","strokeWidth":10},"encoding":{"x2":{"field":"x2"},"y2":{"field":"y2"}}},{"transform":[{"filter":"datum.k=='axis'"}],"mark":{"type":"rule","color":"#333333","strokeWidth":1.1},"encoding":{"x2":{"field":"x2"},"y2":{"field":"y2"}}}]},
{"data":{"name":"b"},"transform":[{"filter":"datum.t%100==0"},{"calculate":"110.7+0.795*datum.t+27.5*(datum.d+3)","as":"x"},{"calculate":"295-0.1167*datum.t+35.33*(datum.d+3)","as":"by"},{"calculate":"datum.by-20*datum.z","as":"y"},{"window":[{"op":"lead","field":"x","as":"nx"},{"op":"lead","field":"y","as":"ny"}],"sort":[{"field":"d"}],"groupby":["t"]}],
"layer":[
{"transform":[{"filter":"datum.d==-3||datum.d==3"}],"mark":{"type":"rule","strokeWidth":3},"encoding":{"y2":{"field":"by"},"color":{"field":"z","type":"quantitative"}}},
{"transform":[{"filter":"datum.t==600"}],"layer":[{"mark":{"type":"area","color":"white"},"encoding":{"y2":{"field":"by"}}},{"transform":[{"filter":"datum.d<3"}],"mark":{"type":"rule","strokeWidth":2,"strokeCap":"round"},"encoding":{"x2":{"field":"nx"},"y2":{"field":"ny"},"color":{"field":"z","type":"quantitative"}}}]},
{"transform":[{"filter":"datum.t==500"}],"layer":[{"mark":{"type":"area","color":"white"},"encoding":{"y2":{"field":"by"}}},{"transform":[{"filter":"datum.d<3"}],"mark":{"type":"rule","strokeWidth":2,"strokeCap":"round"},"encoding":{"x2":{"field":"nx"},"y2":{"field":"ny"},"color":{"field":"z","type":"quantitative"}}}]},
{"transform":[{"filter":"datum.t==400"}],"layer":[{"mark":{"type":"area","color":"white"},"encoding":{"y2":{"field":"by"}}},{"transform":[{"filter":"datum.d<3"}],"mark":{"type":"rule","strokeWidth":2,"strokeCap":"round"},"encoding":{"x2":{"field":"nx"},"y2":{"field":"ny"},"color":{"field":"z","type":"quantitative"}}}]},
{"transform":[{"filter":"datum.t==300"}],"layer":[{"mark":{"type":"area","color":"white"},"encoding":{"y2":{"field":"by"}}},{"transform":[{"filter":"datum.d<3"}],"mark":{"type":"rule","strokeWidth":2,"strokeCap":"round"},"encoding":{"x2":{"field":"nx"},"y2":{"field":"ny"},"color":{"field":"z","type":"quantitative"}}}]},
{"transform":[{"filter":"datum.t==200"}],"layer":[{"mark":{"type":"area","color":"white"},"encoding":{"y2":{"field":"by"}}},{"transform":[{"filter":"datum.d<3"}],"mark":{"type":"rule","strokeWidth":2,"strokeCap":"round"},"encoding":{"x2":{"field":"nx"},"y2":{"field":"ny"},"color":{"field":"z","type":"quantitative"}}}]},
{"transform":[{"filter":"datum.t==100"}],"layer":[{"mark":{"type":"area","color":"white"},"encoding":{"y2":{"field":"by"}}},{"transform":[{"filter":"datum.d<3"}],"mark":{"type":"rule","strokeWidth":2,"strokeCap":"round"},"encoding":{"x2":{"field":"nx"},"y2":{"field":"ny"},"color":{"field":"z","type":"quantitative"}}}]},
{"transform":[{"filter":"datum.t==0"}],"layer":[{"mark":{"type":"area","color":"white"},"encoding":{"y2":{"field":"by"}}},{"transform":[{"filter":"datum.d<3"}],"mark":{"type":"rule","strokeWidth":2,"strokeCap":"round"},"encoding":{"x2":{"field":"nx"},"y2":{"field":"ny"},"color":{"field":"z","type":"quantitative"}}}]}
]},
{"data":{"name":"labels"},"transform":[{"calculate":"110.7+0.795*datum.t+27.5*(datum.d+3)","as":"x"},{"calculate":"295-0.1167*datum.t+35.33*(datum.d+3)-200*datum.f","as":"y"}],"layer":[
{"transform":[{"filter":"datum.k=='t'"}],"mark":{"type":"text","font":"Liberation Serif","fontSize":33,"dx":13,"dy":36},"encoding":{"text":{"field":"label"}}},
{"transform":[{"filter":"datum.k=='d'"}],"mark":{"type":"text","font":"Liberation Serif","fontSize":33,"align":"right","dx":-29,"dy":11},"encoding":{"text":{"field":"label"}}},
{"transform":[{"filter":"datum.k=='e4'"}],"mark":{"type":"text","font":"Liberation Serif","fontSize":33,"align":"right","dx":-12,"dy":-12},"encoding":{"text":{"field":"label"}}},
{"transform":[{"filter":"datum.p=='b'&&datum.k=='delay'"}],"mark":{"type":"text","font":"Liberation Serif","fontSize":34,"angle":53},"encoding":{"text":{"field":"label"}}},
{"transform":[{"filter":"datum.p=='b'&&datum.k=='time'"}],"mark":{"type":"text","font":"Liberation Serif","fontSize":34,"angle":352},"encoding":{"text":{"field":"label"}}},
{"transform":[{"filter":"datum.p=='b'&&datum.k=='amp'"}],"mark":{"type":"text","font":"Liberation Serif","fontSize":34,"angle":270},"encoding":{"text":{"field":"label"}}},
{"transform":[{"filter":"datum.p=='b'&&datum.k=='sci'"}],"mark":{"type":"text","font":"Liberation Serif","fontSize":32},"encoding":{"text":{"field":"label"}}}
]}
]},
{"width":866,"height":620,"title":{"text":"(c) TCAF d9","orient":"bottom","font":"Liberation Serif","fontSize":52,"fontWeight":"normal","offset":1,"dx":2,"color":"black"},
"encoding":{"x":{"field":"x","type":"quantitative","axis":null,"scale":{"domain":[0,866]}},"y":{"field":"y","type":"quantitative","axis":null,"scale":{"domain":[620,0]}}},
"layer":[
{"data":{"name":"guides"},"transform":[{"filter":"datum.k=='grid'"},{"calculate":"130.7+0.7888*datum.t+27.67*(datum.d+3)","as":"x"},{"calculate":"300.7-0.125*datum.t+36.55*(datum.d+3)-210*datum.f","as":"y"},{"calculate":"130.7+0.7888*datum.t2+27.67*(datum.d2+3)","as":"x2"},{"calculate":"300.7-0.125*datum.t2+36.55*(datum.d2+3)-210*datum.f2","as":"y2"}],"mark":{"type":"rule","color":"#dedede","strokeWidth":1.4},"encoding":{"x2":{"field":"x2"},"y2":{"field":"y2"}}},
{"data":{"name":"c"},"transform":[{"filter":"datum.d*4%1==0"}],"layer":[
{"transform":[{"filter":"datum.t==0"},{"calculate":"125.2+27.67*(0.96*datum.d+3)","as":"x"},{"calculate":"301.6+36.55*(0.96*datum.d+3)","as":"y"},{"calculate":"datum.x+484.3","as":"x2"},{"calculate":"datum.y-76.8","as":"y2"}],"mark":{"type":"rule","color":"#3d4a8c","strokeWidth":10.4},"encoding":{"x2":{"field":"x2"},"y2":{"field":"y2"}}},
{"transform":[{"calculate":"max(datum.t-25,-7)","as":"u"},{"calculate":"min(datum.t+25,607)","as":"v"},{"calculate":"130.7+0.7888*datum.u+27.67*(0.96*datum.d+3)","as":"x"},{"calculate":"300.7-0.125*datum.u+36.55*(0.96*datum.d+3)","as":"y"},{"calculate":"130.7+0.7888*datum.v+27.67*(0.96*datum.d+3)","as":"x2"},{"calculate":"300.7-0.125*datum.v+36.55*(0.96*datum.d+3)","as":"y2"}],"mark":{"type":"rule","strokeWidth":10.4},"encoding":{"x2":{"field":"x2"},"y2":{"field":"y2"},"color":{"field":"z","type":"quantitative","scale":{"domain":[0.2,3.53],"clamp":true,"range":["#3d4a8c","#2f6c8e","#1f978b","#3cb073","#97cc43","#f7e51d"]},"legend":{"orient":"none","legendX":778,"legendY":183,"title":"× 10⁶","titleFont":"Liberation Serif","titleFontSize":33,"titleFontWeight":"normal","titleColor":"black","titlePadding":14,"labelFont":"Liberation Serif","labelFontSize":33,"labelColor":"black","labelOffset":7,"gradientLength":216,"gradientThickness":17,"gradientStrokeColor":"#888888","values":[1,2,3]}}}}
]},
{"data":{"name":"guides"},"transform":[{"filter":"datum.k!='grid'"},{"calculate":"130.7+0.7888*datum.t+27.67*(datum.d+3)","as":"x"},{"calculate":"300.7-0.125*datum.t+36.55*(datum.d+3)-210*datum.f","as":"y"},{"calculate":"130.7+0.7888*datum.t2+27.67*(datum.d2+3)","as":"x2"},{"calculate":"300.7-0.125*datum.t2+36.55*(datum.d2+3)-210*datum.f2","as":"y2"}],
"layer":[{"transform":[{"filter":"datum.k=='mask'"}],"mark":{"type":"rule","color":"white","strokeWidth":10},"encoding":{"x2":{"field":"x2"},"y2":{"field":"y2"}}},{"transform":[{"filter":"datum.k=='axis'"}],"mark":{"type":"rule","color":"#333333","strokeWidth":1.1},"encoding":{"x2":{"field":"x2"},"y2":{"field":"y2"}}}]},
{"data":{"name":"c"},"transform":[{"filter":"datum.t%100==0"},{"calculate":"130.7+0.7888*datum.t+27.67*(datum.d+3)","as":"x"},{"calculate":"300.7-0.125*datum.t+36.55*(datum.d+3)","as":"by"},{"calculate":"datum.by-65.8*datum.z","as":"y"},{"window":[{"op":"lead","field":"x","as":"nx"},{"op":"lead","field":"y","as":"ny"}],"sort":[{"field":"d"}],"groupby":["t"]}],
"layer":[
{"transform":[{"filter":"datum.d==-3||datum.d==3"}],"mark":{"type":"rule","strokeWidth":2},"encoding":{"y2":{"field":"by"},"color":{"field":"z","type":"quantitative"}}},
{"transform":[{"filter":"datum.t==600"}],"layer":[{"mark":{"type":"area","color":"white"},"encoding":{"y2":{"field":"by"}}},{"transform":[{"filter":"datum.d<3"}],"mark":{"type":"rule","strokeWidth":1.3,"strokeCap":"round"},"encoding":{"x2":{"field":"nx"},"y2":{"field":"ny"},"color":{"field":"z","type":"quantitative"}}}]},
{"transform":[{"filter":"datum.t==500"}],"layer":[{"mark":{"type":"area","color":"white"},"encoding":{"y2":{"field":"by"}}},{"transform":[{"filter":"datum.d<3"}],"mark":{"type":"rule","strokeWidth":1.3,"strokeCap":"round"},"encoding":{"x2":{"field":"nx"},"y2":{"field":"ny"},"color":{"field":"z","type":"quantitative"}}}]},
{"transform":[{"filter":"datum.t==400"}],"layer":[{"mark":{"type":"area","color":"white"},"encoding":{"y2":{"field":"by"}}},{"transform":[{"filter":"datum.d<3"}],"mark":{"type":"rule","strokeWidth":1.3,"strokeCap":"round"},"encoding":{"x2":{"field":"nx"},"y2":{"field":"ny"},"color":{"field":"z","type":"quantitative"}}}]},
{"transform":[{"filter":"datum.t==300"}],"layer":[{"mark":{"type":"area","color":"white"},"encoding":{"y2":{"field":"by"}}},{"transform":[{"filter":"datum.d<3"}],"mark":{"type":"rule","strokeWidth":1.3,"strokeCap":"round"},"encoding":{"x2":{"field":"nx"},"y2":{"field":"ny"},"color":{"field":"z","type":"quantitative"}}}]},
{"transform":[{"filter":"datum.t==200"}],"layer":[{"mark":{"type":"area","color":"white"},"encoding":{"y2":{"field":"by"}}},{"transform":[{"filter":"datum.d<3"}],"mark":{"type":"rule","strokeWidth":1.3,"strokeCap":"round"},"encoding":{"x2":{"field":"nx"},"y2":{"field":"ny"},"color":{"field":"z","type":"quantitative"}}}]},
{"transform":[{"filter":"datum.t==100"}],"layer":[{"mark":{"type":"area","color":"white"},"encoding":{"y2":{"field":"by"}}},{"transform":[{"filter":"datum.d<3"}],"mark":{"type":"rule","strokeWidth":1.3,"strokeCap":"round"},"encoding":{"x2":{"field":"nx"},"y2":{"field":"ny"},"color":{"field":"z","type":"quantitative"}}}]},
{"transform":[{"filter":"datum.t==0"}],"layer":[{"mark":{"type":"area","color":"white"},"encoding":{"y2":{"field":"by"}}},{"transform":[{"filter":"datum.d<3"}],"mark":{"type":"rule","strokeWidth":1.3,"strokeCap":"round"},"encoding":{"x2":{"field":"nx"},"y2":{"field":"ny"},"color":{"field":"z","type":"quantitative"}}}]}
]},
{"data":{"name":"labels"},"transform":[{"calculate":"130.7+0.7888*datum.t+27.67*(datum.d+3)","as":"x"},{"calculate":"300.7-0.125*datum.t+36.55*(datum.d+3)-210*datum.f","as":"y"}],"layer":[
{"transform":[{"filter":"datum.k=='t'"}],"mark":{"type":"text","font":"Liberation Serif","fontSize":33,"dx":13,"dy":36},"encoding":{"text":{"field":"label"}}},
{"transform":[{"filter":"datum.k=='d'"}],"mark":{"type":"text","font":"Liberation Serif","fontSize":33,"align":"right","dx":-29,"dy":11},"encoding":{"text":{"field":"label"}}},
{"transform":[{"filter":"datum.k=='e6'"}],"mark":{"type":"text","font":"Liberation Serif","fontSize":33,"align":"right","dx":-12,"dy":-12},"encoding":{"text":{"field":"label"}}},
{"transform":[{"filter":"datum.p=='c'&&datum.k=='delay'"}],"mark":{"type":"text","font":"Liberation Serif","fontSize":34,"angle":52},"encoding":{"text":{"field":"label"}}},
{"transform":[{"filter":"datum.p=='c'&&datum.k=='time'"}],"mark":{"type":"text","font":"Liberation Serif","fontSize":34,"angle":352},"encoding":{"text":{"field":"label"}}},
{"transform":[{"filter":"datum.p=='c'&&datum.k=='amp'"}],"mark":{"type":"text","font":"Liberation Serif","fontSize":34,"angle":270},"encoding":{"text":{"field":"label"}}},
{"transform":[{"filter":"datum.p=='c'&&datum.k=='sci'"}],"mark":{"type":"text","font":"Liberation Serif","fontSize":32},"encoding":{"text":{"field":"label"}}}
]}
]},
{"width":866,"height":620,"title":{"text":"(d) FCAF d9","orient":"bottom","font":"Liberation Serif","fontSize":52,"fontWeight":"normal","offset":1,"dx":-5,"color":"black"},
"encoding":{"x":{"field":"x","type":"quantitative","axis":null,"scale":{"domain":[0,866]}},"y":{"field":"y","type":"quantitative","axis":null,"scale":{"domain":[620,0]}}},
"layer":[
{"data":{"name":"guides"},"transform":[{"filter":"datum.k=='grid'"},{"calculate":"110+0.7767*datum.t+27.33*(datum.d+3)","as":"x"},{"calculate":"299.7-0.1217*datum.t+36.33*(datum.d+3)-210*datum.f","as":"y"},{"calculate":"110+0.7767*datum.t2+27.33*(datum.d2+3)","as":"x2"},{"calculate":"299.7-0.1217*datum.t2+36.33*(datum.d2+3)-210*datum.f2","as":"y2"}],"mark":{"type":"rule","color":"#dedede","strokeWidth":1.4},"encoding":{"x2":{"field":"x2"},"y2":{"field":"y2"}}},
{"data":{"name":"d"},"transform":[{"filter":"datum.d*4%1==0"}],"layer":[
{"transform":[{"filter":"datum.t==0"},{"calculate":"104.6+27.33*(0.96*datum.d+3)","as":"x"},{"calculate":"300.55+36.33*(0.96*datum.d+3)","as":"y"},{"calculate":"datum.x+476.9","as":"x2"},{"calculate":"datum.y-74.7","as":"y2"}],"mark":{"type":"rule","color":"#3d4a8c","strokeWidth":10.3},"encoding":{"x2":{"field":"x2"},"y2":{"field":"y2"}}},
{"transform":[{"calculate":"max(datum.t-25,-7)","as":"u"},{"calculate":"min(datum.t+25,607)","as":"v"},{"calculate":"110+0.7767*datum.u+27.33*(0.96*datum.d+3)","as":"x"},{"calculate":"299.7-0.1217*datum.u+36.33*(0.96*datum.d+3)","as":"y"},{"calculate":"110+0.7767*datum.v+27.33*(0.96*datum.d+3)","as":"x2"},{"calculate":"299.7-0.1217*datum.v+36.33*(0.96*datum.d+3)","as":"y2"}],"mark":{"type":"rule","strokeWidth":10.3},"encoding":{"x2":{"field":"x2"},"y2":{"field":"y2"},"color":{"field":"z","type":"quantitative","scale":{"domain":[0.45,3.75],"clamp":true,"range":["#3d4a8c","#2f6c8e","#1f978b","#3cb073","#97cc43","#f7e51d"]},"legend":{"orient":"none","legendX":747,"legendY":185,"title":"× 10⁶","titleFont":"Liberation Serif","titleFontSize":33,"titleFontWeight":"normal","titleColor":"black","titlePadding":14,"labelFont":"Liberation Serif","labelFontSize":33,"labelColor":"black","labelOffset":7,"gradientLength":213,"gradientThickness":17,"gradientStrokeColor":"#888888","values":[1,2,3]}}}}
]},
{"data":{"name":"guides"},"transform":[{"filter":"datum.k!='grid'"},{"calculate":"110+0.7767*datum.t+27.33*(datum.d+3)","as":"x"},{"calculate":"299.7-0.1217*datum.t+36.33*(datum.d+3)-210*datum.f","as":"y"},{"calculate":"110+0.7767*datum.t2+27.33*(datum.d2+3)","as":"x2"},{"calculate":"299.7-0.1217*datum.t2+36.33*(datum.d2+3)-210*datum.f2","as":"y2"}],
"layer":[{"transform":[{"filter":"datum.k=='mask'"}],"mark":{"type":"rule","color":"white","strokeWidth":10},"encoding":{"x2":{"field":"x2"},"y2":{"field":"y2"}}},{"transform":[{"filter":"datum.k=='axis'"}],"mark":{"type":"rule","color":"#333333","strokeWidth":1.1},"encoding":{"x2":{"field":"x2"},"y2":{"field":"y2"}}}]},
{"data":{"name":"d"},"transform":[{"filter":"datum.t%100==0"},{"calculate":"110+0.7767*datum.t+27.33*(datum.d+3)","as":"x"},{"calculate":"299.7-0.1217*datum.t+36.33*(datum.d+3)","as":"by"},{"calculate":"datum.by-65.8*datum.z","as":"y"},{"window":[{"op":"lead","field":"x","as":"nx"},{"op":"lead","field":"y","as":"ny"}],"sort":[{"field":"d"}],"groupby":["t"]}],
"layer":[
{"transform":[{"filter":"datum.d==-3||datum.d==3"}],"mark":{"type":"rule","strokeWidth":2},"encoding":{"y2":{"field":"by"},"color":{"field":"z","type":"quantitative"}}},
{"transform":[{"filter":"datum.t==600"}],"layer":[{"mark":{"type":"area","color":"white"},"encoding":{"y2":{"field":"by"}}},{"transform":[{"filter":"datum.d<3"}],"mark":{"type":"rule","strokeWidth":1.3,"strokeCap":"round"},"encoding":{"x2":{"field":"nx"},"y2":{"field":"ny"},"color":{"field":"z","type":"quantitative"}}}]},
{"transform":[{"filter":"datum.t==500"}],"layer":[{"mark":{"type":"area","color":"white"},"encoding":{"y2":{"field":"by"}}},{"transform":[{"filter":"datum.d<3"}],"mark":{"type":"rule","strokeWidth":1.3,"strokeCap":"round"},"encoding":{"x2":{"field":"nx"},"y2":{"field":"ny"},"color":{"field":"z","type":"quantitative"}}}]},
{"transform":[{"filter":"datum.t==400"}],"layer":[{"mark":{"type":"area","color":"white"},"encoding":{"y2":{"field":"by"}}},{"transform":[{"filter":"datum.d<3"}],"mark":{"type":"rule","strokeWidth":1.3,"strokeCap":"round"},"encoding":{"x2":{"field":"nx"},"y2":{"field":"ny"},"color":{"field":"z","type":"quantitative"}}}]},
{"transform":[{"filter":"datum.t==300"}],"layer":[{"mark":{"type":"area","color":"white"},"encoding":{"y2":{"field":"by"}}},{"transform":[{"filter":"datum.d<3"}],"mark":{"type":"rule","strokeWidth":1.3,"strokeCap":"round"},"encoding":{"x2":{"field":"nx"},"y2":{"field":"ny"},"color":{"field":"z","type":"quantitative"}}}]},
{"transform":[{"filter":"datum.t==200"}],"layer":[{"mark":{"type":"area","color":"white"},"encoding":{"y2":{"field":"by"}}},{"transform":[{"filter":"datum.d<3"}],"mark":{"type":"rule","strokeWidth":1.3,"strokeCap":"round"},"encoding":{"x2":{"field":"nx"},"y2":{"field":"ny"},"color":{"field":"z","type":"quantitative"}}}]},
{"transform":[{"filter":"datum.t==100"}],"layer":[{"mark":{"type":"area","color":"white"},"encoding":{"y2":{"field":"by"}}},{"transform":[{"filter":"datum.d<3"}],"mark":{"type":"rule","strokeWidth":1.3,"strokeCap":"round"},"encoding":{"x2":{"field":"nx"},"y2":{"field":"ny"},"color":{"field":"z","type":"quantitative"}}}]},
{"transform":[{"filter":"datum.t==0"}],"layer":[{"mark":{"type":"area","color":"white"},"encoding":{"y2":{"field":"by"}}},{"transform":[{"filter":"datum.d<3"}],"mark":{"type":"rule","strokeWidth":1.3,"strokeCap":"round"},"encoding":{"x2":{"field":"nx"},"y2":{"field":"ny"},"color":{"field":"z","type":"quantitative"}}}]}
]},
{"data":{"name":"labels"},"transform":[{"calculate":"110+0.7767*datum.t+27.33*(datum.d+3)","as":"x"},{"calculate":"299.7-0.1217*datum.t+36.33*(datum.d+3)-210*datum.f","as":"y"}],"layer":[
{"transform":[{"filter":"datum.k=='t'"}],"mark":{"type":"text","font":"Liberation Serif","fontSize":33,"dx":13,"dy":36},"encoding":{"text":{"field":"label"}}},
{"transform":[{"filter":"datum.k=='d'"}],"mark":{"type":"text","font":"Liberation Serif","fontSize":33,"align":"right","dx":-29,"dy":11},"encoding":{"text":{"field":"label"}}},
{"transform":[{"filter":"datum.k=='e6'"}],"mark":{"type":"text","font":"Liberation Serif","fontSize":33,"align":"right","dx":-12,"dy":-12},"encoding":{"text":{"field":"label"}}},
{"transform":[{"filter":"datum.p=='d'&&datum.k=='delay'"}],"mark":{"type":"text","font":"Liberation Serif","fontSize":34,"angle":53},"encoding":{"text":{"field":"label"}}},
{"transform":[{"filter":"datum.p=='d'&&datum.k=='time'"}],"mark":{"type":"text","font":"Liberation Serif","fontSize":34,"angle":352},"encoding":{"text":{"field":"label"}}},
{"transform":[{"filter":"datum.p=='d'&&datum.k=='amp'"}],"mark":{"type":"text","font":"Liberation Serif","fontSize":34,"angle":270},"encoding":{"text":{"field":"label"}}},
{"transform":[{"filter":"datum.p=='d'&&datum.k=='sci'"}],"mark":{"type":"text","font":"Liberation Serif","fontSize":32},"encoding":{"text":{"field":"label"}}}
]}
]}
]}
